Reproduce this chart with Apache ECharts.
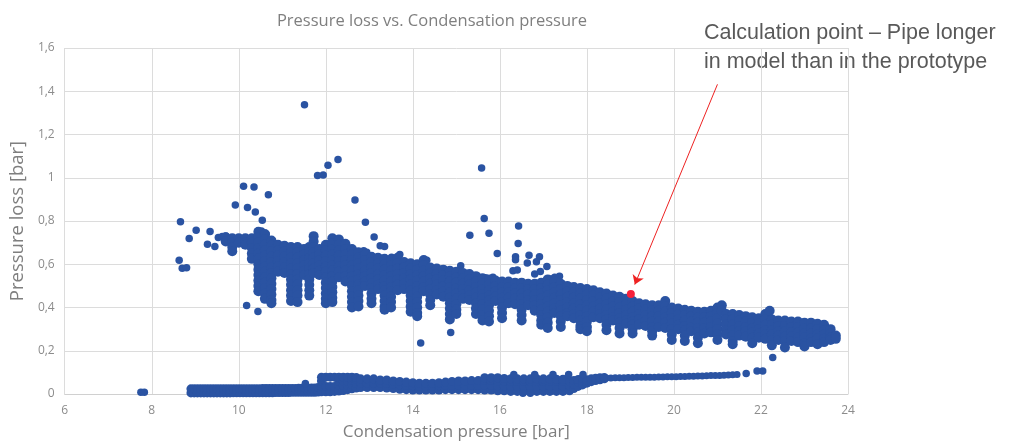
<!DOCTYPE html>
<html>
<head>
<meta charset="utf-8">
<script src="https://cdn.jsdelivr.net/npm/echarts@6/dist/echarts.min.js"></script>
<style>html,body{margin:0;padding:0;background:#fff}#chart{width:1015px;height:446px}</style>
</head>
<body>
<div id="chart"></div>
<script>
const titleText = 'Pressure loss vs. Condensation pressure';
const xName = 'Condensation pressure [bar]';
const yName = 'Pressure loss [bar]';
const noteLines = ['Calculation point \u2013 Pipe longer', 'in model than in the prototype'];
const xTicks = [6, 8, 10, 12, 14, 16, 18, 20, 22, 24];
const yTicks = [0, 0.2, 0.4, 0.6, 0.8, 1.0, 1.2, 1.4, 1.6];

// isolated scattered points (upper cloud)
const outliers = [[11.51,1.337],[11.81,1.010],[11.94,1.013],[12.05,1.058],[12.28,1.084],[12.67,0.897],[12.91,0.794],
[15.58,1.045],[15.64,0.812],[10.11,0.961],[10.35,0.957],[10.68,0.921],[9.92,0.874],[10.20,0.863],[10.38,0.842],[10.54,0.803],
[8.66,0.797],[16.43,0.777],[9.02,0.757],[9.34,0.751],[8.86,0.719],[9.28,0.693],[9.45,0.682],[9.53,0.724],[9.70,0.731],[9.62,0.728],
[8.63,0.618],[8.70,0.581],[8.80,0.584],[10.18,0.409],[10.44,0.382],[14.18,0.236],[14.87,0.284],[15.10,0.593],[15.31,0.734],
[15.75,0.743],[15.94,0.650],[13.11,0.726],[13.25,0.685],[13.35,0.682],[12.87,0.662],[12.94,0.655],[13.51,0.632],[13.70,0.645],
[14.32,0.619],[16.42,0.696],[16.36,0.635],[16.36,0.621],[16.67,0.642],[16.91,0.635],[16.63,0.606],[16.84,0.612],[17.08,0.590],
[16.30,0.570],[16.40,0.573],[16.80,0.555],[16.93,0.566],[15.67,0.537],[15.84,0.540],[17.18,0.532],[17.37,0.544],[17.26,0.540],
[22.27,0.169],[10.52,0.754],[10.63,0.739]];

// main band: each entry = [x, y values read down that column]
const bandCols = [
[9.70,0.725,0.705],
[9.85,0.72,0.70,0.68,0.66],
[10.00,0.72,0.70],
[10.15,0.72,0.70,0.69],
[10.30,0.72,0.70,0.675,0.65,0.625],
[10.45,0.75,0.725,0.70,0.675,0.65,0.625,0.60,0.575,0.55,0.525,0.50,0.475],
[10.60,0.74,0.715,0.69,0.665,0.64,0.615,0.59,0.565,0.54,0.515,0.49,0.465,0.44],
[10.75,0.71,0.685,0.66,0.635,0.61,0.585,0.56,0.535,0.51,0.485,0.46,0.435,0.42],
[10.90,0.69,0.665,0.64,0.615,0.59,0.565],
[11.05,0.685,0.66,0.635,0.61,0.585,0.56],
[11.20,0.68,0.655,0.63,0.605,0.58,0.555,0.53,0.505,0.48,0.455,0.43],
[11.35,0.68,0.655,0.63,0.605,0.58,0.555,0.53,0.505,0.48,0.455,0.425],
[11.50,0.67,0.645,0.62,0.595,0.57,0.55],
[11.62,0.68,0.655,0.63,0.605,0.58,0.555,0.53,0.505,0.48,0.455],
[11.72,0.73,0.705,0.68,0.655,0.63,0.605,0.58,0.56],
[11.85,0.67,0.645,0.62,0.595,0.57,0.55],
[12.00,0.69,0.665,0.64,0.615,0.59,0.565,0.54,0.515,0.49,0.465,0.44,0.42],
[12.15,0.72,0.695,0.67,0.645,0.62,0.595,0.57,0.545,0.52,0.495,0.47,0.445,0.425],
[12.30,0.715,0.69,0.665,0.64,0.615,0.59,0.565,0.54],
[12.45,0.695,0.67,0.645,0.62,0.595,0.57,0.545,0.52],
[12.60,0.67,0.645,0.62,0.595,0.57,0.545,0.52,0.50,0.475,0.45,0.425,0.40],
[12.75,0.655,0.63,0.605,0.58,0.555,0.53,0.505,0.48,0.455,0.43,0.405],
[12.90,0.645,0.62,0.595,0.57,0.545,0.52,0.50],
[13.05,0.635,0.61,0.585,0.56,0.535,0.51,0.49,0.465,0.44,0.42],
[13.20,0.63,0.605,0.58,0.555,0.53,0.505,0.485],
[13.35,0.625,0.60,0.575,0.55,0.525,0.50,0.48,0.455,0.43,0.405,0.39],
[13.50,0.62,0.595,0.57,0.545,0.52,0.495,0.475,0.45,0.425,0.40],
[13.65,0.63,0.605,0.58,0.555,0.53,0.505,0.48],
[13.80,0.61,0.585,0.56,0.535,0.51,0.485],
[13.95,0.605,0.58,0.555,0.53,0.505,0.48,0.455,0.43,0.405,0.38],
[14.10,0.60,0.575,0.55,0.525,0.50,0.475,0.45,0.425,0.40,0.375,0.36],
[14.25,0.62,0.595,0.57,0.545,0.52,0.495,0.475],
[14.40,0.585,0.56,0.535,0.51,0.485,0.46,0.435,0.41],
[14.55,0.58,0.555,0.53,0.505,0.48,0.46],
[14.70,0.575,0.55,0.525,0.50,0.475,0.45],
[14.85,0.57,0.545,0.52,0.495,0.47,0.445,0.42,0.395,0.37,0.345],
[15.00,0.565,0.54,0.515,0.49,0.465,0.44,0.415,0.39,0.37],
[15.15,0.56,0.535,0.51,0.485,0.46,0.44],
[15.30,0.555,0.53,0.505,0.48,0.455,0.435],
[15.45,0.545,0.52,0.495,0.47,0.445,0.42,0.395,0.37],
[15.60,0.535,0.51,0.485,0.46,0.44,0.415,0.39,0.365,0.34],
[15.75,0.53,0.505,0.48,0.455,0.435,0.41,0.385,0.36,0.335],
[15.90,0.525,0.50,0.475,0.45,0.43],
[16.05,0.52,0.495,0.47,0.445,0.425,0.40,0.375,0.35],
[16.20,0.52,0.495,0.47,0.445,0.42],
[16.35,0.515,0.49,0.465,0.44,0.415],
[16.50,0.515,0.49,0.465,0.44,0.415,0.39,0.365,0.34],
[16.65,0.51,0.485,0.46,0.435,0.41],
[16.80,0.51,0.485,0.46,0.435,0.41,0.385],
[16.95,0.515,0.49,0.465,0.44,0.415,0.39,0.365,0.34,0.32],
[17.10,0.53,0.505,0.48,0.455,0.43,0.405,0.38,0.355,0.33,0.305],
[17.25,0.52,0.495,0.47,0.445,0.42,0.395,0.375],
[17.40,0.51,0.485,0.46,0.435,0.41,0.385,0.36,0.335,0.31],
[17.55,0.50,0.475,0.45,0.425,0.40,0.375,0.36],
[17.70,0.495,0.47,0.445,0.42,0.395,0.37,0.35],
[17.85,0.49,0.465,0.44,0.415,0.39,0.365,0.34,0.315,0.30],
[18.00,0.485,0.46,0.435,0.41,0.385,0.36,0.335,0.31,0.29],
[18.15,0.48,0.455,0.43,0.405,0.38,0.355],
[18.30,0.47,0.445,0.42,0.395,0.37,0.35],
[18.45,0.465,0.44,0.415,0.39,0.365,0.345,0.32,0.295],
[18.60,0.455,0.43,0.405,0.38,0.355,0.34],
[18.75,0.45,0.425,0.40,0.375,0.35,0.33,0.305,0.28],
[18.90,0.44,0.415,0.39,0.365,0.34,0.325],
[19.05,0.43,0.405,0.38,0.355,0.335,0.32,0.30,0.28],
[19.20,0.42,0.395,0.37,0.345,0.32],
[19.35,0.415,0.39,0.365,0.34,0.315],
[19.50,0.41,0.385,0.36,0.335,0.31,0.29,0.27],
[19.65,0.41,0.385,0.36,0.335,0.31],
[19.80,0.43,0.405,0.38,0.355,0.33,0.305],
[19.95,0.40,0.375,0.35,0.325,0.30,0.275,0.25],
[20.10,0.395,0.37,0.345,0.32,0.30],
[20.25,0.39,0.365,0.34,0.315,0.295,0.27,0.245],
[20.40,0.385,0.36,0.335,0.31,0.29],
[20.55,0.38,0.355,0.33,0.305,0.285,0.26,0.235],
[20.70,0.38,0.355,0.33,0.305,0.28],
[20.85,0.385,0.36,0.335,0.31,0.285],
[21.00,0.40,0.375,0.35,0.325,0.30,0.275,0.25],
[21.10,0.41,0.385],
[21.20,0.37,0.345,0.32,0.295,0.275],
[21.35,0.37,0.345,0.32,0.295,0.27,0.245,0.23],
[21.50,0.365,0.34,0.315,0.29,0.27],
[21.65,0.36,0.335,0.31,0.29,0.265],
[21.80,0.355,0.33,0.305,0.285,0.26,0.235],
[21.95,0.35,0.325,0.30,0.28,0.26],
[22.10,0.37,0.345,0.32,0.295,0.275,0.255],
[22.20,0.385],
[22.25,0.345,0.32,0.295,0.275,0.25,0.225],
[22.40,0.34,0.315,0.29,0.27,0.25],
[22.55,0.34,0.315,0.29,0.265,0.245,0.215],
[22.70,0.335,0.31,0.285,0.265,0.245],
[22.85,0.335,0.31,0.285,0.26,0.24],
[23.00,0.33,0.305,0.28,0.26,0.235,0.22],
[23.15,0.33,0.305,0.28,0.255,0.24],
[23.30,0.325,0.30,0.275,0.255,0.23],
[23.45,0.32,0.295,0.275,0.255,0.24],
[23.60,0.30,0.28,0.26,0.25],
[23.72,0.27,0.255]
];

// lower band: each entry = [x, y values in that column]
const lowCols = [
[8.900,0.005,0.024],[8.975,0.005,0.024],[9.050,0.005,0.024],[9.125,0.005,0.024],[9.200,0.005,0.024],
[9.275,0.005,0.024],[9.350,0.005,0.024],[9.425,0.005,0.024],[9.500,0.005,0.024],[9.575,0.005,0.024],
[9.650,0.005,0.024],[9.725,0.005,0.024],[9.800,0.005,0.024],[9.875,0.006,0.024],[9.950,0.006,0.024],
[10.025,0.006,0.024],[10.100,0.006,0.024],[10.175,0.006,0.024],[10.250,0.006,0.024],[10.325,0.006,0.024],
[10.400,0.006,0.024],[10.475,0.006,0.024],[10.550,0.006,0.025],[10.625,0.006,0.025],[10.700,0.006,0.025],
[10.775,0.006,0.025],[10.850,0.007,0.025],[10.925,0.007,0.025],[11.000,0.007,0.026],[11.075,0.007,0.026],
[11.150,0.007,0.026],[11.225,0.008,0.026],[11.300,0.008,0.026],[11.375,0.008,0.027],[11.450,0.008,0.027],
[11.525,0.008,0.027],[11.600,0.008,0.027],[11.675,0.008,0.028],[11.750,0.008,0.028],[11.825,0.009,0.03],
[11.90,0.01,0.035,0.06,0.078],[12.00,0.01,0.035,0.078],[12.10,0.01,0.035,0.078],[12.20,0.012,0.035,0.078],
[12.30,0.014,0.04,0.06,0.078],[12.40,0.016,0.04,0.06,0.078],[12.50,0.02,0.04,0.06,0.078],[12.60,0.024,0.045,0.065,0.078],
[12.70,0.028,0.048,0.068,0.076],[12.80,0.03,0.05,0.07],[12.95,0.03,0.05,0.07],
[13.10,0.03,0.05,0.07],[13.25,0.03,0.05,0.065],[13.40,0.028,0.048,0.065],[13.55,0.025,0.045,0.06],
[13.70,0.022,0.042,0.058],[13.85,0.02,0.04,0.055],[14.00,0.018,0.038,0.052],[14.15,0.018,0.036,0.05],
[14.30,0.018,0.036,0.05],[14.45,0.018,0.036,0.05],[14.60,0.018,0.038,0.052],[14.75,0.02,0.04,0.055],
[14.90,0.02,0.04,0.058],[15.05,0.02,0.04,0.06],[15.20,0.02,0.04,0.06],[15.35,0.02,0.04,0.062],
[15.50,0.02,0.04,0.062],[15.65,0.018,0.04,0.062,0.075],[15.80,0.018,0.04,0.062,0.075],[15.95,0.015,0.038,0.06,0.075],
[16.10,0.015,0.038,0.06,0.072],[16.25,0.012,0.035,0.058,0.07],[16.40,0.012,0.035,0.058,0.07],[16.55,0.012,0.035,0.058,0.07],
[16.70,0.012,0.035,0.058,0.07],[16.85,0.012,0.035,0.058,0.07],[17.00,0.012,0.035,0.058,0.07],[17.15,0.012,0.035,0.058,0.07],
[17.30,0.012,0.035,0.058,0.068],[17.45,0.012,0.035,0.058,0.068],[17.60,0.015,0.038,0.06],[17.70,0.025,0.045,0.062],
[17.80,0.035,0.055,0.067],[17.90,0.042,0.06,0.072],[18.00,0.05,0.066],[18.10,0.057,0.07],[18.20,0.062,0.073],
[18.30,0.066,0.075],[18.40,0.07,0.076]
];

// thin tail of the lower band
const lowLine = [[18.45,0.074],[18.55,0.074],[18.65,0.075],[18.75,0.075],[18.85,0.075],[18.95,0.076],[19.05,0.076],
[19.15,0.077],[19.25,0.077],[19.35,0.077],[19.45,0.078],[19.55,0.078],[19.65,0.079],[19.75,0.079],[19.85,0.08],
[19.95,0.08],[20.05,0.08],[20.15,0.081],[20.25,0.081],[20.35,0.082],[20.45,0.082],[20.55,0.083],[20.65,0.083],
[20.75,0.084],[20.85,0.085],[20.95,0.085],[21.05,0.086],[21.15,0.087],[21.25,0.088],[21.35,0.089],[21.45,0.09]];

const lowOutliers = [[7.75,0.008],[7.83,0.008],[11.53,0.049],[16.32,0.09],[16.80,0.09],[17.22,0.09],[17.58,0.09],
[17.91,0.09],[21.66,0.095],[21.91,0.106],[22.04,0.106],[16.53,0.003],[16.70,0.003]];

const calcPoint = [[19.01, 0.463]];
const arrowFrom = [21.0, 1.432];
const arrowTo = [19.10, 0.506];

function flatten(cols) {
  const out = [];
  cols.forEach(c => { for (let i = 1; i < c.length; i++) out.push([c[0], c[i]]); });
  return out;
}

const BLUE = '#2a53a2';
const chart = echarts.init(document.getElementById('chart'), null, {renderer: 'canvas'});
chart.setOption({
  animation: false,
  backgroundColor: '#ffffff',
  textStyle: {fontFamily: 'Open Sans'},
  grid: {left: 62, right: 167, top: 48, bottom: 50, containLabel: false},
  xAxis: {
    type: 'value', min: xTicks[0], max: xTicks[xTicks.length - 1], interval: 2,
    name: xName, nameLocation: 'middle', nameGap: 30,
    nameTextStyle: {color: '#7f7f7f', fontSize: 17, fontFamily: 'Open Sans'},
    axisLine: {show: true, lineStyle: {color: '#d0d0d0', width: 1}},
    axisTick: {show: false},
    axisLabel: {color: '#8c8c8c', fontSize: 12, margin: 11, fontFamily: 'Open Sans'},
    splitLine: {show: true, lineStyle: {color: '#dcdcdc', width: 1}}
  },
  yAxis: {
    type: 'value', min: yTicks[0], max: yTicks[yTicks.length - 1], interval: 0.2,
    name: yName, nameLocation: 'middle', nameGap: 36, nameRotate: 90,
    nameTextStyle: {color: '#7f7f7f', fontSize: 18.5, fontFamily: 'Open Sans'},
    axisLine: {show: false},
    axisTick: {show: false},
    axisLabel: {color: '#8c8c8c', fontSize: 12, margin: 10, fontFamily: 'Open Sans',
      formatter: v => String(+v.toFixed(1)).replace('.', ',')},
    splitLine: {show: true, lineStyle: {color: '#dcdcdc', width: 1}}
  },
  graphic: [
    {type: 'text', x: 432, y: 21, silent: true,
     style: {text: titleText, fill: '#7f7f7f', fontSize: 16.5, fontFamily: 'Open Sans', align: 'center', verticalAlign: 'middle'}},
    {type: 'text', x: 704, y: 33, silent: true,
     style: {text: noteLines[0], fill: '#595959', fontSize: 21.5, fontFamily: 'Liberation Sans', align: 'left', verticalAlign: 'middle'}},
    {type: 'text', x: 704, y: 62, silent: true,
     style: {text: noteLines[1], fill: '#595959', fontSize: 21.5, fontFamily: 'Liberation Sans', align: 'left', verticalAlign: 'middle'}}
  ],
  series: [
    {type: 'scatter', data: outliers, symbolSize: 7.5, itemStyle: {color: BLUE, opacity: 1}, silent: true},
    {type: 'scatter', data: flatten(bandCols), symbolSize: 10, itemStyle: {color: BLUE, opacity: 1}, silent: true},
    {type: 'scatter', data: flatten(lowCols), symbolSize: 9, itemStyle: {color: BLUE, opacity: 1}, silent: true},
    {type: 'scatter', data: lowLine, symbolSize: 7, itemStyle: {color: BLUE, opacity: 1}, silent: true},
    {type: 'scatter', data: lowOutliers, symbolSize: 7.5, itemStyle: {color: BLUE, opacity: 1}, silent: true},
    {type: 'scatter', data: calcPoint, symbolSize: 8, itemStyle: {color: '#f5203a', opacity: 1}, silent: true, z: 5,
     markLine: {silent: true, symbol: ['none', 'arrow'], symbolSize: 9, label: {show: false},
       lineStyle: {color: '#ee2222', width: 1, type: 'solid'},
       data: [[{coord: arrowFrom}, {coord: arrowTo}]]}}
  ]
});
</script>
</body>
</html>
